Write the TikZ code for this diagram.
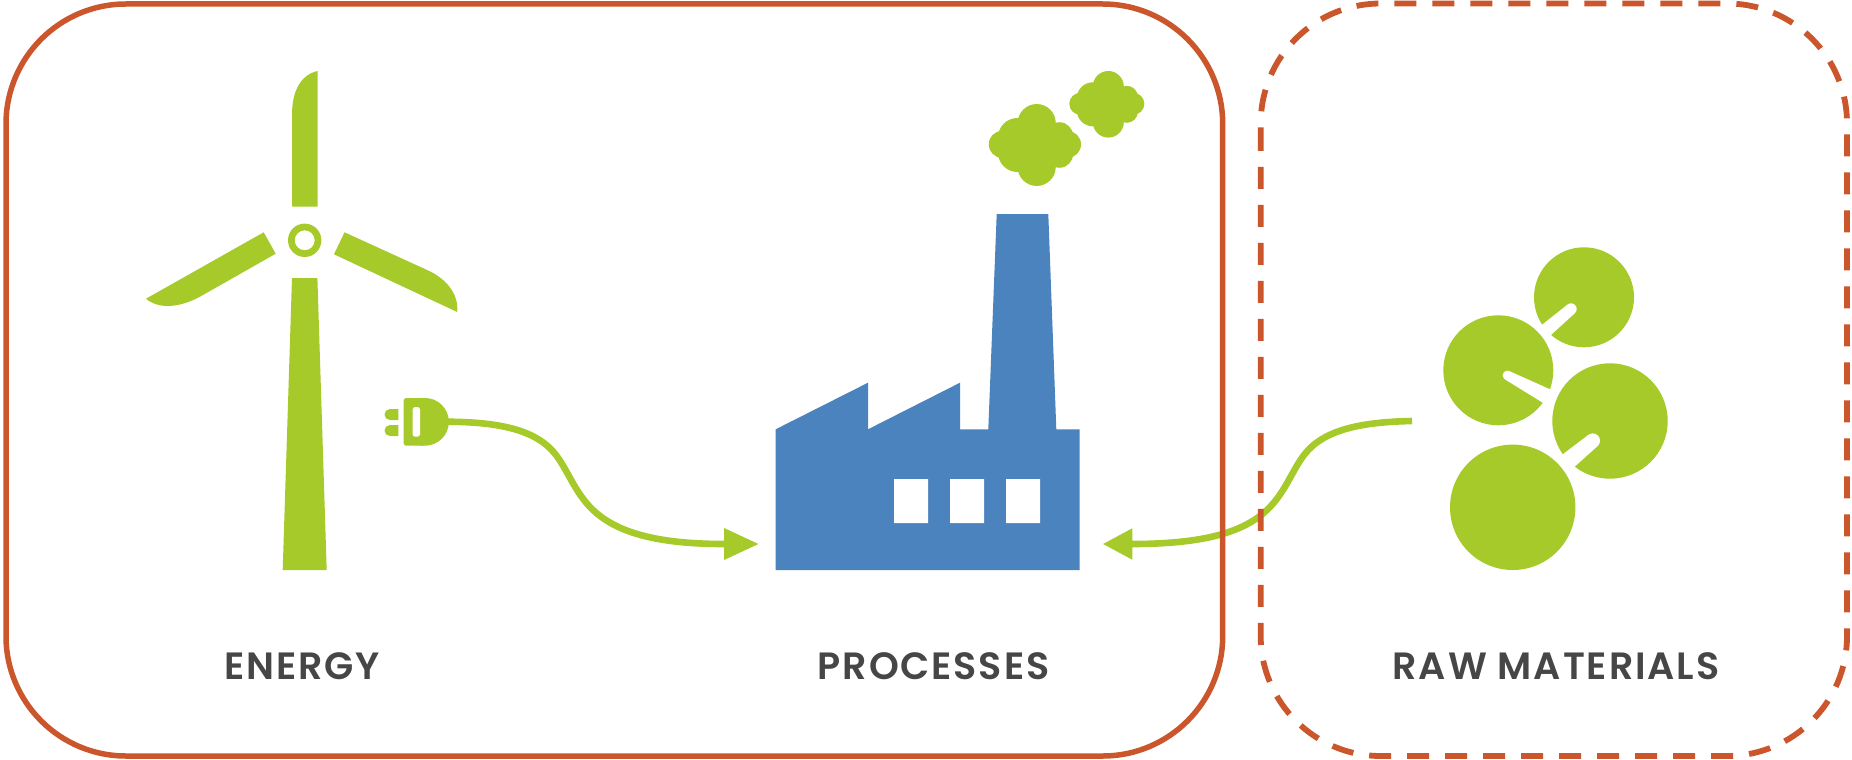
\documentclass[tikz,border=0pt]{standalone}
\usepackage{fontspec}
\setmainfont{Poppins}
\newfontfamily\labelfont[LetterSpace=5]{Poppins SemiBold}
\usetikzlibrary{arrows.meta}
\definecolor{leaf}{HTML}{A6CA2A}
\definecolor{rust}{HTML}{CB562B}
\definecolor{steel}{HTML}{4A83BE}
\definecolor{ink}{HTML}{464646}
\tikzset{
  leaffill/.style={fill=leaf,draw=none},
  hole/.style={fill=white,draw=none},
  steelfill/.style={fill=steel,draw=none},
  frame/.style={draw=rust,line width=5.5pt},
  dashframe/.style={draw=rust,line width=5.8pt,dash pattern=on 22pt off 16pt},
  cable/.style={draw=leaf,line width=6.6pt},
  label/.style={font=\fontsize{38}{40}\selectfont\labelfont,text=ink,anchor=base,inner sep=0pt},
  tiplong/.style={-{Triangle[length=35pt,width=30pt]}},
  tipshort/.style={-{Triangle[length=29.6pt,width=29.4pt]}}
}
% one puff of smoke: centre x, centre y, scale
\newcommand{\smokepuff}[3]{%
  \begin{scope}[shift={(#1,#2)},scale=#3]
    \fill[leaffill] (0,-17.8) circle[radius=15.5] (0,17.8) circle[radius=15.5]
      (-15.5,-6) circle[radius=16] (-15.5,6) circle[radius=16]
      (18.5,-7.5) circle[radius=11] (18.5,7.5) circle[radius=11]
      (-28,-0.5) circle[radius=11] (25,-0.5) circle[radius=11]
      (0,0) circle[radius=22];
  \end{scope}}
\begin{document}
\begin{tikzpicture}[x=1pt,y=-1pt]
\useasboundingbox (0,0) rectangle (1852,760);
\fill[white] (0,0) rectangle (1852,760);

% wind turbine
\fill[leaffill] (317.6,71) .. controls (300,75) and (292,92) .. (292,115) -- (292,206.7) -- (317.6,206.7) -- cycle;
\fill[leaffill] (263.7,232.3) -- (275.7,253.7) -- (200,296.7) .. controls (182,306.5) and (160,310.5) .. (146,298.7) -- cycle;
\fill[leaffill] (344.5,232.3) -- (334,254.3) -- (457.2,312) .. controls (459,294) and (446,278) .. (426,269.5) -- cycle;
\fill[leaffill,even odd rule] (304.7,240.3) circle[radius=16.7] (304.7,240.3) circle[radius=10];
\fill[leaffill] (292,278) -- (317.4,278) -- (326.7,570) -- (282.7,570) -- cycle;

% plug
\fill[leaffill,rounded corners=2.5pt] (403.7,398) -- (403.7,445.7) -- (425,445.7) -- (425,398) -- cycle;
\fill[leaffill] (420,398) -- (425,398) arc[start angle=-90,end angle=90,radius=23.85] -- (420,445.7) -- cycle;
\fill[hole,rounded corners=2.5pt] (412.7,407) rectangle (420,436.7);
\fill[leaffill] (398.3,409) -- (390,409) arc[start angle=-90,end angle=-270,radius=5.5] -- (398.3,420) -- cycle;
\fill[leaffill] (398.3,425) -- (390,425) arc[start angle=-90,end angle=-270,radius=5.5] -- (398.3,436) -- cycle;
\coordinate (plugout) at (447,421.7);
\coordinate (energytip) at (759,544);

% factory
\fill[steelfill] (775.7,570) -- (775.7,429.3) -- (868,382.7) -- (868,429.3) -- (960,382.7) -- (960,429.3)
  -- (988.3,429.3) -- (996.7,214) -- (1048.3,214) -- (1056.3,429.3) -- (1079.7,429.3) -- (1079.7,570) -- cycle;
\fill[hole] (894,479) rectangle (928,523) (950,479) rectangle (984,523) (1006,479) rectangle (1040,523);
\smokepuff{1036.7}{145}{1.23}
\smokepuff{1108.3}{104.3}{1}

% raw materials
\fill[leaffill] (1584,297.3) circle[radius=50];
\fill[hole] (1571,309) circle[radius=5.7];
\fill[hole] (1574.7,313.3) -- (1567.3,304.7) -- (1537.7,328.2) -- (1547.4,338.2) -- cycle;
\fill[leaffill] (1498.3,370.3) circle[radius=55];
\fill[hole] (1507.3,375.3) circle[radius=4.7];
\fill[hole] (1505.1,379.5) -- (1509.5,371.2) -- (1555,391.5) -- (1547.3,405.5) -- cycle;
\fill[leaffill] (1610,421) circle[radius=57.7];
\fill[hole] (1592.7,440.7) circle[radius=7.3];
\fill[hole] (1597.3,446.3) -- (1588.1,435.1) -- (1558.1,457.8) -- (1570.4,470.5) -- cycle;
\fill[leaffill] (1512.7,507.3) circle[radius=62.7];
\coordinate (rawout) at (1412,421);
\coordinate (rawtip) at (1102.7,544);

% connectors
\draw[cable,tiplong] (plugout) .. controls (500,422) and (537,430) .. (556,455)
  .. controls (568,471) and (574,490) .. (590,507)
  .. controls (612,530) and (650,544) .. (724,544) -- (energytip);
\draw[cable,tipshort] (rawout) .. controls (1360,422) and (1323,430) .. (1304,455)
  .. controls (1292,471) and (1286,490) .. (1270,507)
  .. controls (1248,530) and (1210,544) .. (1132,544) -- (rawtip);

% frames
\draw[frame] (6,380) -- (6,124) arc[start angle=180,end angle=270,radius=120]
  -- (1102.7,4) arc[start angle=270,end angle=360,radius=120]
  -- (1222.7,636) arc[start angle=0,end angle=90,radius=120]
  -- (126,756) arc[start angle=90,end angle=180,radius=120] -- cycle;
\draw[dashframe] (1260.7,149.3) -- (1260.7,123.5) arc[start angle=180,end angle=270,radius=120]
  -- (1727,3.5) arc[start angle=270,end angle=360,radius=120]
  -- (1847,636) arc[start angle=0,end angle=90,radius=120]
  -- (1380.7,756) arc[start angle=90,end angle=180,radius=120] -- cycle;

% labels
\node[label] (energy) at (302,679) {ENERGY};
\node[label] (processes) at (933.5,679) {PROCESSES};
\node[label] (rawmaterials) at (1556,679) {RAW MATERIALS};
\end{tikzpicture}
\end{document}
